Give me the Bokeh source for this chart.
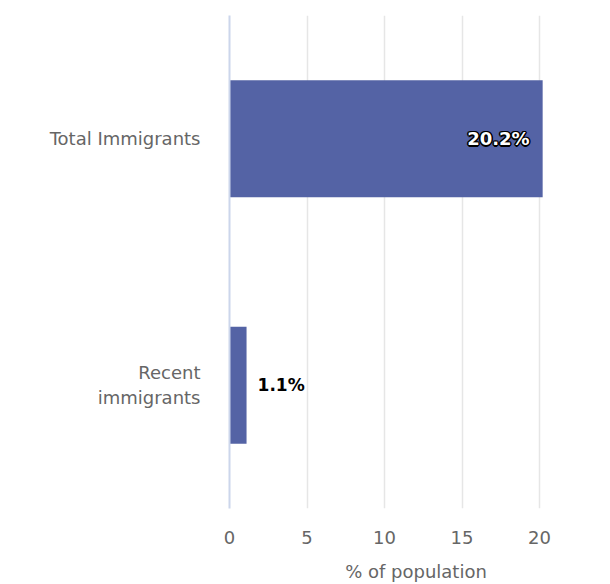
from bokeh.plotting import figure
from bokeh.models import FactorRange, Range1d, FixedTicker, ColumnDataSource
from bokeh.embed import file_html
from bokeh.resources import INLINE
from bokeh.core.properties import value

categories = ["Total Immigrants", "Recent\nimmigrants"]
values = [20.2, 1.1]
labels = ["20.2%", "1.1%"]
x_ticks = [0, 5, 10, 15, 20, 25]

FONT = "DejaVu Sans"

p = figure(width=602, height=584, output_backend="svg", toolbar_location=None,
           y_range=FactorRange(factors=list(reversed(categories)), range_padding=0),
           x_range=Range1d(0, 24.06),
           min_border_left=229, min_border_right=0, min_border_top=15, min_border_bottom=76)
p.outline_line_color = None
p.background_fill_color = "white"
p.border_fill_color = "white"

p.hbar(y=categories, right=values, height=0.475, left=0,
       fill_color="#5463a5", line_color=None)

inside = ColumnDataSource(dict(x=[values[0]], y=[categories[0]], t=[labels[0]]))
outside = ColumnDataSource(dict(x=[values[1]], y=[categories[1]], t=[labels[1]]))

# dark halo around the inside label
for dx, dy in [(-1.5, 0), (1.5, 0), (0, -1.5), (0, 1.5),
               (-1, -1), (1, -1), (-1, 1), (1, 1)]:
    p.text(x="x", y="y", text="t", source=inside, x_offset=-13 + dx, y_offset=dy,
           text_align="right", text_baseline="middle", text_color="black",
           text_font=value(FONT), text_font_size="18px", text_font_style="bold")
p.text(x="x", y="y", text="t", source=inside, x_offset=-13, text_align="right",
       text_baseline="middle", text_color="white", text_font=value(FONT),
       text_font_size="18px", text_font_style="bold")
p.text(x="x", y="y", text="t", source=outside, x_offset=11, text_align="left",
       text_baseline="middle", text_color="black", text_font=value(FONT),
       text_font_size="17px", text_font_style="bold")

p.xaxis.ticker = FixedTicker(ticks=x_ticks)
p.xaxis.axis_label = "% of population"
p.xaxis.axis_line_color = None
p.xaxis.major_tick_line_color = None
p.xaxis.minor_tick_line_color = None
p.xaxis.major_label_standoff = 16
p.xaxis.axis_label_standoff = 14
p.xaxis.major_label_text_font = FONT
p.xaxis.major_label_text_font_size = "18px"
p.xaxis.major_label_text_color = "#666666"
p.xaxis.axis_label_text_font = FONT
p.xaxis.axis_label_text_font_size = "18px"
p.xaxis.axis_label_text_font_style = "normal"
p.xaxis.axis_label_text_color = "#666666"

p.yaxis.axis_line_color = "#ccd6eb"
p.yaxis.axis_line_width = 2
p.yaxis.major_tick_line_color = None
p.yaxis.minor_tick_line_color = None
p.yaxis.major_label_standoff = 23
p.yaxis.major_label_text_font = FONT
p.yaxis.major_label_text_font_size = "18px"
p.yaxis.major_label_text_color = "#666666"

p.xgrid.grid_line_color = "#e6e6e6"
p.xgrid.grid_line_width = 1.5
p.ygrid.grid_line_color = None

open("out.html", "w").write(file_html(p, INLINE))
